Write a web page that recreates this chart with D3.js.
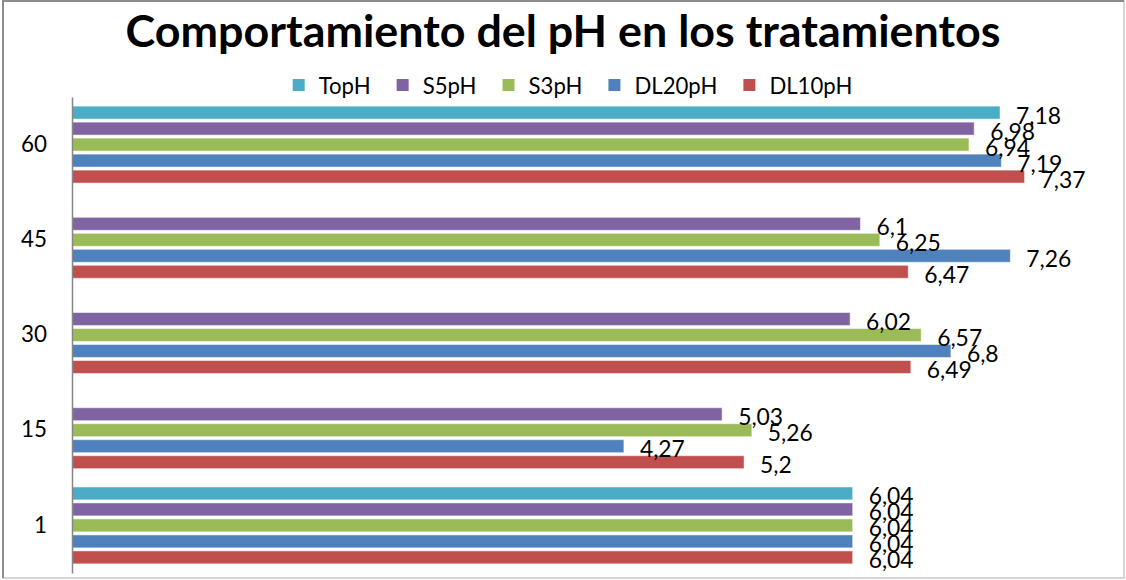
<!DOCTYPE html>
<html>
<head>
<meta charset="utf-8">
<script src="https://cdn.jsdelivr.net/npm/d3@7"></script>
<style>
  html, body { margin: 0; padding: 0; background: #fff; }
  svg { display: block; }
  text { font-family: Lato, "Open Sans", "DejaVu Sans", sans-serif; fill: #000; }
</style>
</head>
<body>
<svg id="chart" width="1126" height="580"></svg>
<script>
// Sampling days (top to bottom) and the pH series measured on each day
const categories = ["60", "45", "30", "15", "1"];
const seriesNames = ["TopH", "S5pH", "S3pH", "DL20pH", "DL10pH"];
const seriesColors = ["#4bacc6", "#8064a2", "#9bbb59", "#4f81bd", "#c0504d"];
const TopH   = [7.18, null, null, null, 6.04];
const S5pH   = [6.98, 6.1, 6.02, 5.03, 6.04];
const S3pH   = [6.94, 6.25, 6.57, 5.26, 6.04];
const DL20pH = [7.19, 7.26, 6.8, 4.27, 6.04];
const DL10pH = [7.37, 6.47, 6.49, 5.2, 6.04];
const seriesValues = [TopH, S5pH, S3pH, DL20pH, DL10pH];
const xDomain = [0, 8];

const title = "Comportamiento del pH en los tratamientos";

const svg = d3.select("#chart");
const W = 1126, H = 580;

// chart frame
svg.append("rect")
  .attr("x", 3).attr("y", 1).attr("width", W - 5).attr("height", H - 3)
  .attr("fill", "#fff").attr("stroke", "#c8c8c8").attr("stroke-width", 1.5);
svg.append("path")
  .attr("d", `M3,${H - 2} L3,1 L${W - 2},1`)
  .attr("fill", "none").attr("stroke", "#8c8c8c").attr("stroke-width", 2);

// scale a font so a sample string reaches a given width
function fitFont(sample, width, weight) {
  const t = svg.append("text").attr("font-size", 100)
    .attr("font-weight", weight || "normal").text(sample);
  const w = t.node().getComputedTextLength();
  t.remove();
  return 100 * width / w;
}

const titleSize = fitFont(title, 875, "bold");
const legendSize = fitFont("DL10pH", 83);
const catSize = fitFont("60", 26);
const labelSize = fitFont("7,18", 45);

const plot = { left: 72, right: 1106, top: 97, bottom: 573 };

const x = d3.scaleLinear().domain(xDomain).range([plot.left, plot.right]);
const y = d3.scaleBand().domain(categories).range([plot.top, plot.bottom])
  .paddingInner(0.16).paddingOuter(0.08);
const ySub = d3.scaleBand().domain(seriesNames).range([0, y.bandwidth()])
  .paddingInner(0.19).paddingOuter(0.095);

// title
svg.append("text")
  .attr("x", W / 2).attr("y", 47)
  .attr("text-anchor", "middle")
  .attr("font-weight", "bold")
  .attr("font-size", titleSize)
  .text(title);

// legend, centred under the title
const legend = svg.append("g");
let lx = 0;
const sq = 12, sqGap = 14, itemGap = 26;
seriesNames.forEach((name, i) => {
  const g = legend.append("g").attr("transform", `translate(${lx},0)`);
  g.append("rect").attr("x", 0).attr("y", -sq / 2).attr("width", sq).attr("height", sq)
    .attr("fill", seriesColors[i]);
  const t = g.append("text").attr("x", sq + sqGap).attr("y", 0)
    .attr("dominant-baseline", "central")
    .attr("font-size", legendSize).text(name);
  lx += sq + sqGap + t.node().getComputedTextLength() + itemGap;
});
const legendWidth = lx - itemGap;
legend.attr("transform", `translate(${(297 + 848) / 2 - legendWidth / 2},85)`);

// bars
const rows = [];
categories.forEach((c, ci) => {
  seriesNames.forEach((s, si) => {
    const v = seriesValues[si][ci];
    if (v !== null) rows.push({ cat: c, series: s, color: seriesColors[si], value: v });
  });
});

const bars = svg.append("g");
bars.selectAll("rect").data(rows).join("rect")
  .attr("x", x(0))
  .attr("y", d => y(d.cat) + ySub(d.series))
  .attr("width", d => x(d.value) - x(0))
  .attr("height", ySub.bandwidth())
  .attr("fill", d => d.color)
  .attr("stroke", "#fff").attr("stroke-opacity", 0.5).attr("stroke-width", 1);

// value labels
const fmt = v => String(v).replace(".", ",");
svg.append("g").selectAll("text").data(rows).join("text")
  .attr("x", d => x(d.value) + 16)
  .attr("y", d => y(d.cat) + ySub(d.series) + ySub.bandwidth() / 2 + 2)
  .attr("dominant-baseline", "central")
  .attr("font-size", labelSize)
  .text(d => fmt(d.value));

// category axis
const yAxis = d3.axisLeft(y).tickSize(0).tickPadding(25);
const ax = svg.append("g").attr("transform", `translate(${plot.left},0)`).call(yAxis);
ax.select(".domain").attr("stroke", "#868686").attr("stroke-width", 1.5);
ax.selectAll(".tick text")
  .attr("font-size", catSize)
  .attr("font-family", "Lato, 'Open Sans', sans-serif")
  .attr("fill", "#000");
</script>
</body>
</html>
